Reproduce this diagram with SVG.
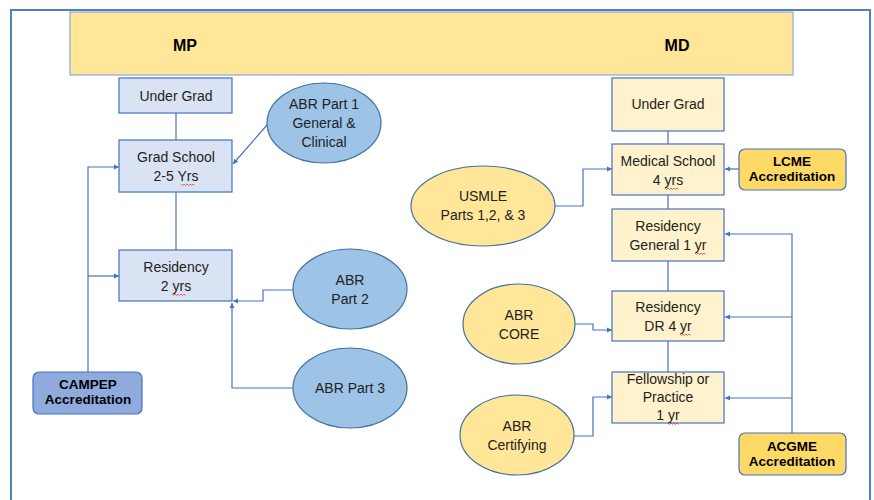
<svg xmlns="http://www.w3.org/2000/svg" width="874" height="500" viewBox="0 0 874 500">
<defs>
<style>
.t{font-family:"Liberation Sans",Arial,sans-serif;font-size:14px;fill:#222;text-anchor:middle}
.b{font-family:"Liberation Sans",Arial,sans-serif;font-size:13.5px;font-weight:bold;fill:#000;text-anchor:middle}
.h{font-family:"Liberation Sans",Arial,sans-serif;font-size:16px;font-weight:bold;fill:#000;text-anchor:middle}
.bx{fill:#dae3f3;stroke:#4472c4;stroke-width:1.2}
.yb{fill:#fff2cc;stroke:#4472c4;stroke-width:1.2}
.be{fill:#9dc3e6;stroke:#41719c;stroke-width:1.2}
.ye{fill:#ffe699;stroke:#41719c;stroke-width:1.2}
.c{fill:none;stroke:#4472c4;stroke-width:1.2}
.sq{fill:none;stroke:#e04040;stroke-width:0.8}
</style>
<marker id="a" markerWidth="6" markerHeight="6" refX="5" refY="3" orient="auto" markerUnits="userSpaceOnUse">
<path d="M0,0.5 L5,3 L0,5.5 Z" fill="#4472c4"/>
</marker>
</defs>
<rect x="0" y="0" width="874" height="500" fill="#fff"/>
<path d="M11,500 V10 H870 V500" fill="none" stroke="#4f81bd" stroke-width="2"/>
<g id="header">
<rect x="70" y="12" width="723" height="63" fill="#ffe699" stroke="#8ea9db" stroke-width="1.2"/>
<text class="h" x="185" y="51">MP</text>
<text class="h" x="677" y="51">MD</text>
</g>
<g id="connectors">
<path class="c" d="M176,113 V140 M176,192 V250"/>
<path class="c" d="M668,131 V144 M668,195 V209 M668,261 V291 M668,341 V372"/>
<path class="c" d="M267,125 L233,164" marker-end="url(#a)"/>
<path class="c" d="M88,372 V167 H119" marker-end="url(#a)"/>
<path class="c" d="M88,276 H119" marker-end="url(#a)"/>
<path class="c" d="M294,290 H263 V301 H233" marker-end="url(#a)"/>
<path class="c" d="M293,388 H232 V303" marker-end="url(#a)"/>
<path class="c" d="M739,169 H725" marker-end="url(#a)"/>
<path class="c" d="M555,206 H583 V169 H612" marker-end="url(#a)"/>
<path class="c" d="M792,433 V234 H725" marker-end="url(#a)"/>
<path class="c" d="M792,317 H725" marker-end="url(#a)"/>
<path class="c" d="M792,398 H725" marker-end="url(#a)"/>
<path class="c" d="M575,324 H593 V330 H612" marker-end="url(#a)"/>
<path class="c" d="M574,436 H593 V397 H612" marker-end="url(#a)"/>
</g>
<g id="mp-undergrad">
<rect class="bx" x="119" y="78" width="113" height="35"/>
<text class="t" x="176" y="101">Under Grad</text>
</g>
<g id="mp-gradschool">
<rect class="bx" x="119" y="140" width="113" height="52"/>
<text class="t" x="176" y="162">Grad School</text>
<text class="t" x="176" y="181">2-5 Yrs</text>
<path class="sq" d="M181,184 l1.5,1.5 l1.5,-1.5 l1.5,1.5 l1.5,-1.5 l1.5,1.5 l1.5,-1.5 l1.5,1.5 l1.5,-1.5 l1.5,1.5"/>
</g>
<g id="mp-residency">
<rect class="bx" x="119" y="250" width="113" height="51"/>
<text class="t" x="176" y="272">Residency</text>
<text class="t" x="176" y="291">2 yrs</text>
<path class="sq" d="M172,294 l1.5,1.5 l1.5,-1.5 l1.5,1.5 l1.5,-1.5 l1.5,1.5 l1.5,-1.5 l1.5,1.5 l1.5,-1.5 l1.5,1.5"/>
</g>
<g id="abr-part1">
<ellipse class="be" cx="324" cy="123" rx="57" ry="40"/>
<text class="t" x="324" y="109">ABR Part 1</text>
<text class="t" x="324" y="128">General &amp;</text>
<text class="t" x="324" y="147">Clinical</text>
</g>
<g id="abr-part2">
<ellipse class="be" cx="350" cy="289" rx="57" ry="40"/>
<text class="t" x="350" y="285">ABR</text>
<text class="t" x="350" y="304">Part 2</text>
</g>
<g id="abr-part3">
<ellipse class="be" cx="350" cy="388" rx="57" ry="40"/>
<text class="t" x="350" y="393">ABR Part 3</text>
</g>
<g id="campep">
<rect x="33" y="372" width="109" height="42" rx="6" fill="#8faadc" stroke="#4472c4" stroke-width="1.2"/>
<text class="b" x="88" y="389">CAMPEP</text>
<text class="b" x="88" y="404">Accreditation</text>
</g>
<g id="md-undergrad">
<rect class="yb" x="612" y="78" width="112" height="53"/>
<text class="t" x="668" y="109">Under Grad</text>
</g>
<g id="md-medschool">
<rect class="yb" x="612" y="144" width="112" height="51"/>
<text class="t" x="668" y="166">Medical School</text>
<text class="t" x="668" y="185">4 yrs</text>
<path class="sq" d="M665,188 l1.5,1.5 l1.5,-1.5 l1.5,1.5 l1.5,-1.5 l1.5,1.5 l1.5,-1.5 l1.5,1.5 l1.5,-1.5 l1.5,1.5"/>
</g>
<g id="md-res-general">
<rect class="yb" x="612" y="209" width="112" height="52"/>
<text class="t" x="668" y="231">Residency</text>
<text class="t" x="668" y="250">General 1 yr</text>
<path class="sq" d="M695,253 l1.5,1.5 l1.5,-1.5 l1.5,1.5 l1.5,-1.5 l1.5,1.5 l1.5,-1.5 l1.5,1.5"/>
</g>
<g id="md-res-dr">
<rect class="yb" x="612" y="291" width="112" height="50"/>
<text class="t" x="668" y="312">Residency</text>
<text class="t" x="668" y="331">DR 4 yr</text>
<path class="sq" d="M680,334 l1.5,1.5 l1.5,-1.5 l1.5,1.5 l1.5,-1.5 l1.5,1.5 l1.5,-1.5 l1.5,1.5"/>
</g>
<g id="md-fellowship">
<rect class="yb" x="612" y="372" width="112" height="51"/>
<text class="t" x="668" y="384">Fellowship or</text>
<text class="t" x="668" y="402">Practice</text>
<text class="t" x="668" y="420">1 yr</text>
<path class="sq" d="M668,423 l1.5,1.5 l1.5,-1.5 l1.5,1.5 l1.5,-1.5 l1.5,1.5 l1.5,-1.5 l1.5,1.5"/>
</g>
<g id="lcme">
<rect x="739" y="149" width="107" height="41" rx="6" fill="#ffd966" stroke="#4472c4" stroke-width="1.2"/>
<text class="b" x="792" y="166">LCME</text>
<text class="b" x="792" y="181">Accreditation</text>
</g>
<g id="acgme">
<rect x="739" y="433" width="107" height="42" rx="6" fill="#ffd966" stroke="#4472c4" stroke-width="1.2"/>
<text class="b" x="792" y="451">ACGME</text>
<text class="b" x="792" y="466">Accreditation</text>
</g>
<g id="usmle">
<ellipse class="ye" cx="483" cy="206" rx="72" ry="40"/>
<text class="t" x="483" y="201">USMLE</text>
<text class="t" x="483" y="220">Parts 1,2, &amp; 3</text>
</g>
<g id="abr-core">
<ellipse class="ye" cx="519" cy="324" rx="56" ry="40"/>
<text class="t" x="519" y="320">ABR</text>
<text class="t" x="519" y="339">CORE</text>
</g>
<g id="abr-certifying">
<ellipse class="ye" cx="517" cy="435" rx="57" ry="40"/>
<text class="t" x="517" y="431">ABR</text>
<text class="t" x="517" y="450">Certifying</text>
</g>
</svg>
